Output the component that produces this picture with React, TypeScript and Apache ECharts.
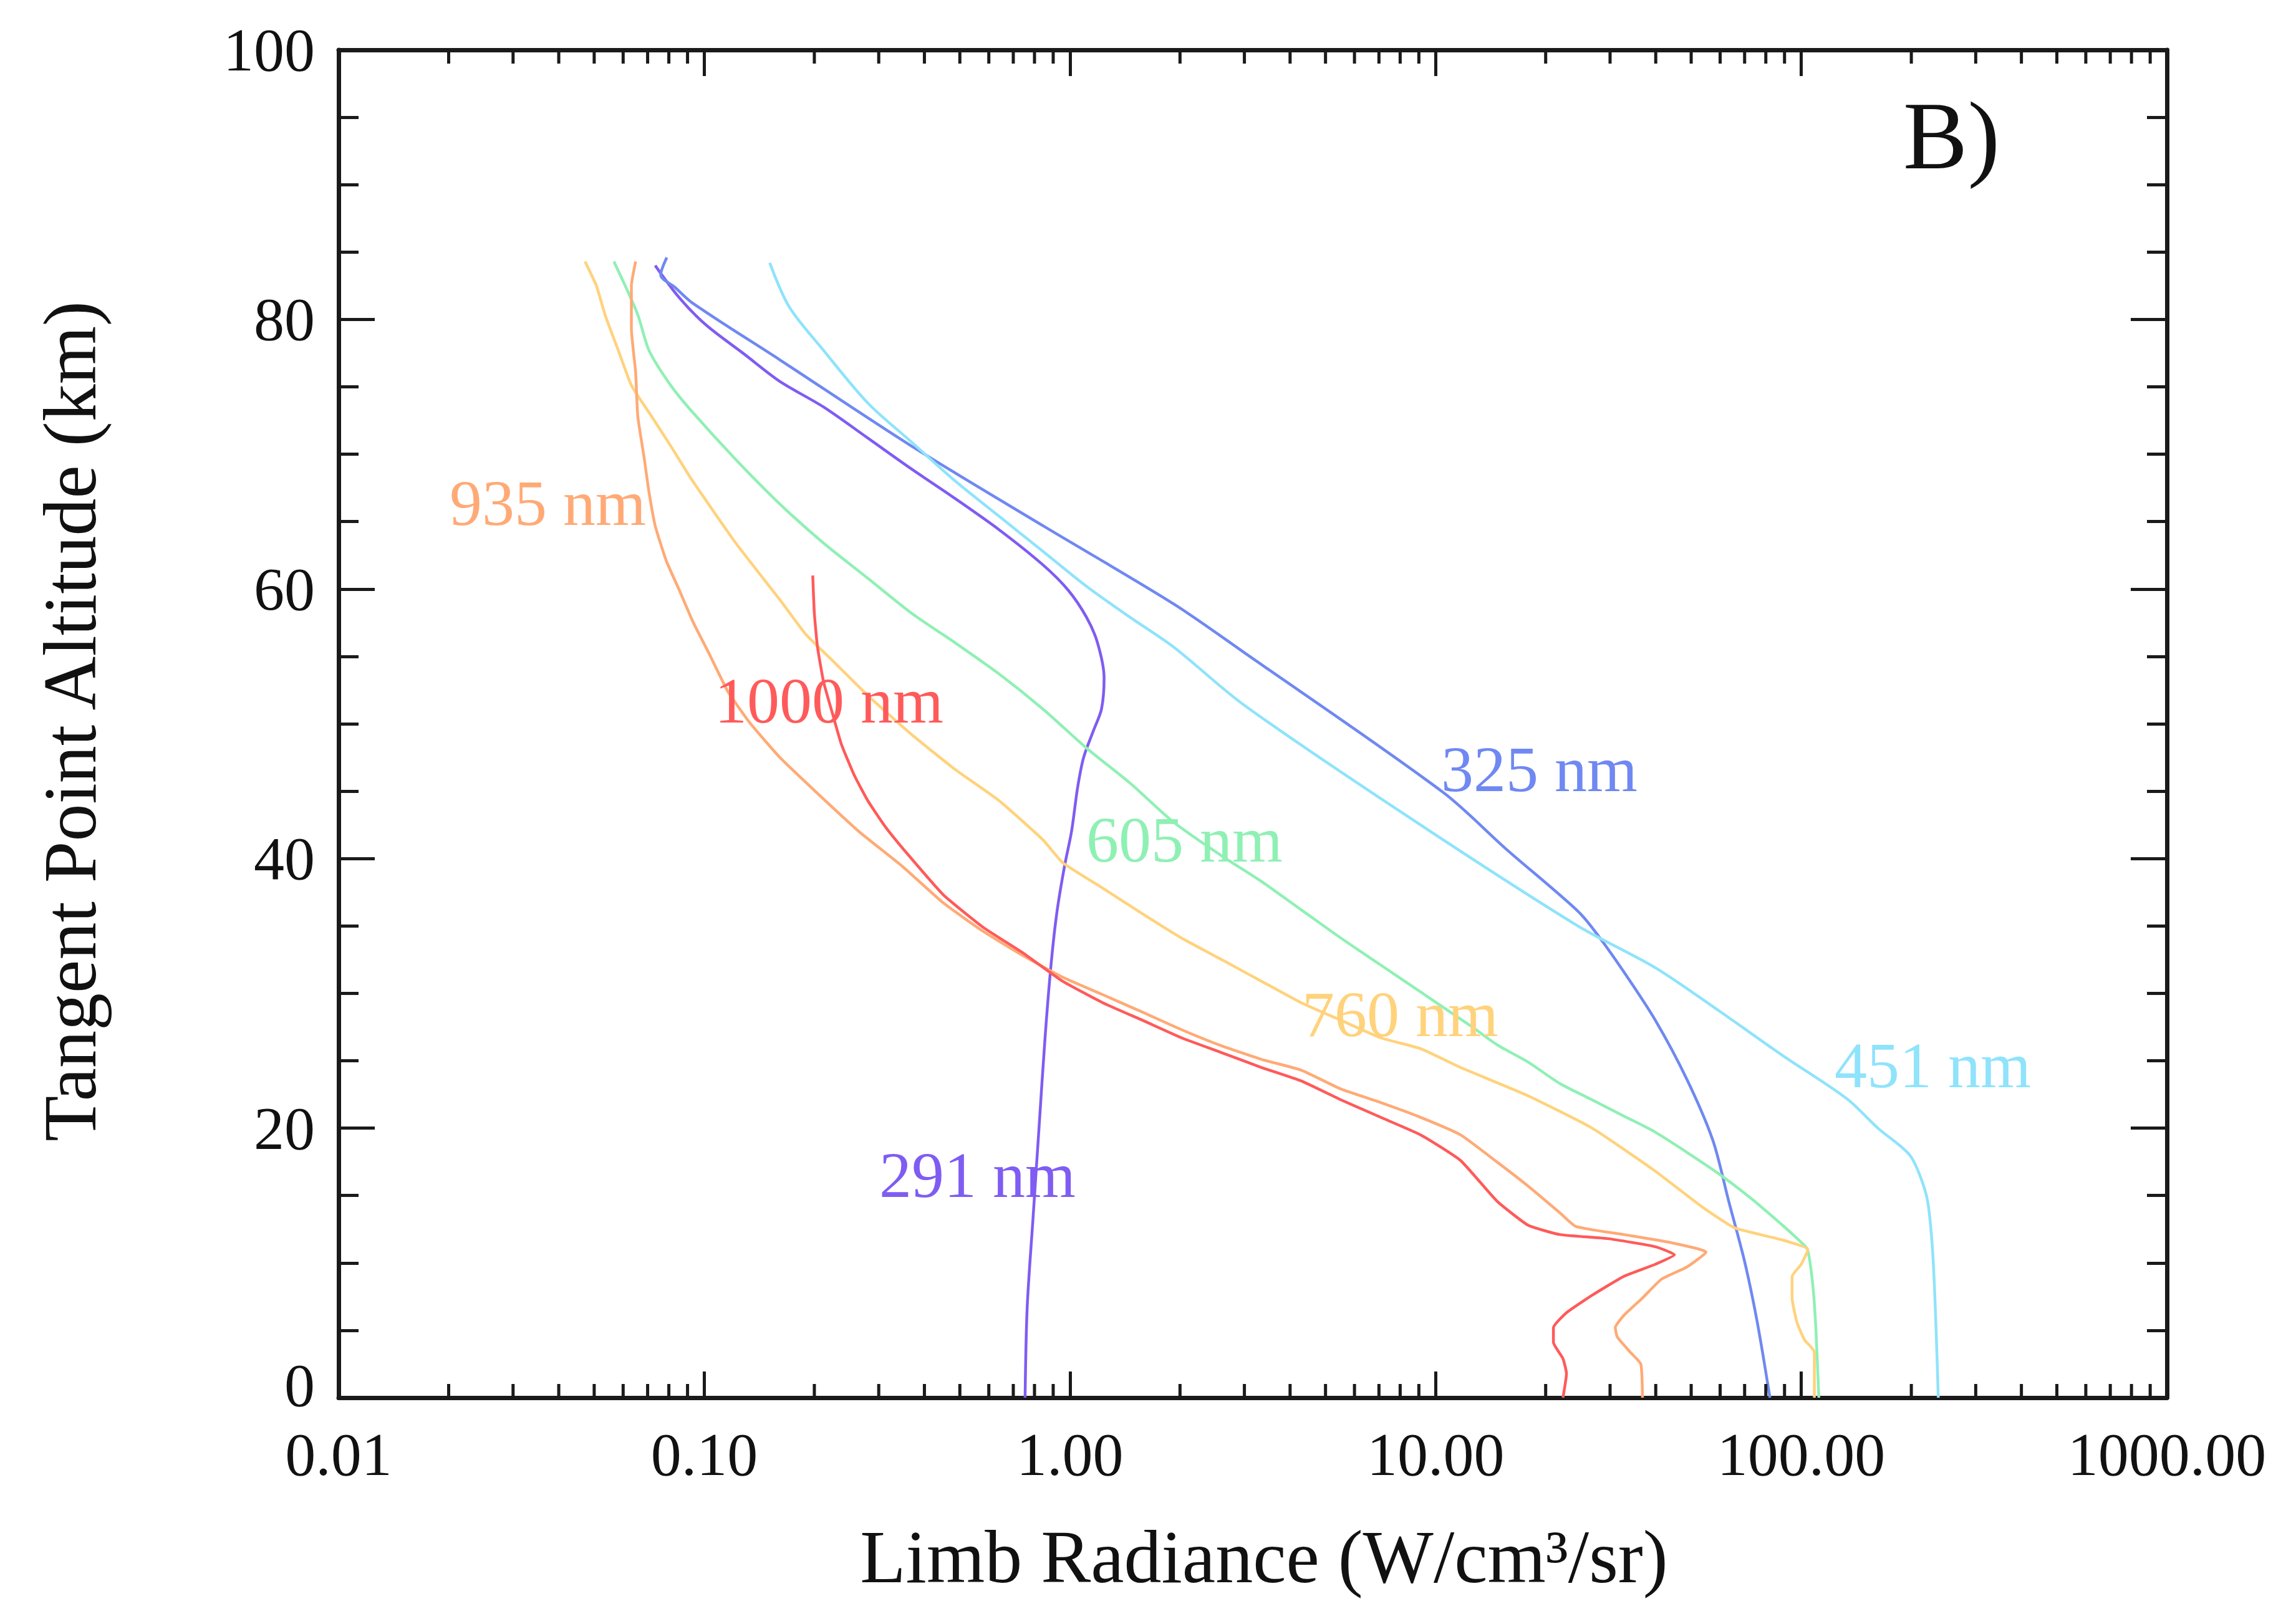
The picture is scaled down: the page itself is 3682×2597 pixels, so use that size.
import React, { useEffect, useRef } from "react";
import * as echarts from "echarts";

const W = 3682;
const H = 2597;

// ---- tick labels ----
const xTickLabels = ["0.01", "0.10", "1.00", "10.00", "100.00", "1000.00"];
const yTickLabels = ["0", "20", "40", "60", "80", "100"];
const xDecades = [0.01, 0.1, 1, 10, 100];
const xMinorMultipliers = [2, 3, 4, 5, 6, 7, 8, 9];

// ---- series: [radiance, altitude km] ----
const s291 = [
  [0.0734, 84.0], [0.0855, 81.6], [0.101, 79.6], [0.129, 77.4], [0.161, 75.4], [0.212, 73.5],
  [0.280, 71.2], [0.369, 68.9], [0.486, 66.7], [0.640, 64.4], [0.843, 61.8], [0.99, 59.9],
  [1.11, 57.9], [1.19, 56.0], [1.24, 53.4], [1.22, 51.1], [1.16, 49.5], [1.09, 47.5],
  [1.05, 45.3], [1.01, 42.0], [0.966, 39.4], [0.92, 35.9], [0.887, 32.0], [0.855, 26.7],
  [0.823, 20.0], [0.793, 13.4], [0.764, 6.7], [0.754, 0],
];
const s325 = [
  [0.079, 84.6], [0.076, 83.3], [0.083, 82.4], [0.093, 81.2], [0.161, 77.0], [0.369, 70.6],
  [0.843, 64.7], [1.92, 58.9], [2.99, 55.3], [10.5, 44.9], [15.6, 40.7], [24.5, 36.1],
  [27.8, 34.3], [32.7, 31.6], [39.9, 28.0], [48.7, 23.6], [57.3, 19.1], [63.3, 14.6],
  [70.0, 10.1], [75.8, 5.6], [82.1, 0],
];
const s451 = [
  [0.151, 84.2], [0.171, 80.9], [0.212, 77.7], [0.280, 73.8], [0.369, 70.9], [0.486, 68.0],
  [0.640, 65.4], [0.843, 62.8], [1.11, 60.2], [1.46, 57.9], [1.92, 55.7], [2.99, 51.4],
  [8.1, 43.4], [24.5, 35.0], [39.9, 31.9], [59.6, 28.7], [88.8, 25.4], [133, 22.2],
  [162, 20.0], [198, 18.0], [215, 15.9], [223, 14.1], [230, 9.7], [237, 0],
];
const s605 = [
  [0.0566, 84.3], [0.0615, 82.2], [0.0659, 80.3], [0.0706, 77.7], [0.081, 75.1], [0.093, 73.1],
  [0.122, 69.6], [0.161, 66.3], [0.212, 63.4], [0.280, 60.8], [0.369, 58.2], [0.486, 56.0],
  [0.640, 53.7], [0.843, 51.1], [1.11, 48.2], [1.46, 45.6], [1.92, 42.7], [2.60, 40.2],
  [3.34, 38.3], [4.29, 36.2], [5.51, 34.1], [7.08, 32.1], [9.10, 30.1], [12.6, 27.5],
  [14.7, 26.2], [17.9, 24.9], [21.9, 23.3], [26.8, 22.1], [32.7, 20.9], [39.9, 19.7],
  [48.7, 18.2], [59.6, 16.6], [72.8, 14.8], [88.8, 12.8], [100.2, 11.5], [104, 11.0],
  [107.4, 8.5], [109.6, 5.2], [111.7, 0],
];
const s760 = [
  [0.0472, 84.3], [0.0507, 82.5], [0.0536, 80.3], [0.0582, 77.7], [0.0632, 75.1], [0.0706, 73.1],
  [0.081, 70.6], [0.093, 68.0], [0.122, 63.4], [0.161, 59.2], [0.190, 56.6], [0.224, 54.7],
  [0.280, 52.1], [0.369, 49.2], [0.486, 46.6], [0.640, 44.3], [0.843, 41.4], [0.955, 39.7],
  [1.23, 37.8], [1.58, 35.9], [2.02, 34.1], [2.60, 32.5], [3.34, 30.9], [4.29, 29.3],
  [5.51, 28.0], [7.08, 26.7], [9.10, 25.9], [11.7, 24.5], [17.9, 22.4], [26.8, 20.0],
  [39.9, 16.8], [53.9, 14.1], [65.8, 12.6], [88.8, 11.7], [104.3, 11.0], [100, 9.9],
  [94.4, 9.0], [94.4, 7.4], [97.3, 5.6], [102, 4.3], [108.6, 3.4], [108.6, 0],
];
const s935 = [
  [0.0649, 84.3], [0.0632, 82.5], [0.0632, 79.3], [0.0649, 76.1], [0.0658, 72.8], [0.0686, 69.6],
  [0.0705, 67.3], [0.0734, 64.7], [0.0787, 62.1], [0.0855, 59.9], [0.093, 57.6], [0.104, 55.0],
  [0.116, 52.4], [0.133, 50.1], [0.161, 47.5], [0.201, 45.0], [0.265, 42.0], [0.349, 39.4],
  [0.451, 36.7], [0.579, 34.6], [0.744, 32.8], [0.955, 31.2], [1.23, 29.9], [1.58, 28.6],
  [2.02, 27.3], [2.60, 26.1], [3.34, 25.1], [4.29, 24.3], [5.51, 22.9], [7.08, 21.9],
  [9.10, 20.8], [11.7, 19.5], [14.7, 17.5], [17.9, 15.7], [21.9, 13.7], [24.2, 12.7],
  [32.7, 12.1], [44.1, 11.5], [54.9, 10.8], [48.7, 9.7], [41.5, 8.8], [36.8, 7.4],
  [32.7, 6.1], [31.0, 5.2], [31.4, 4.5], [34.0, 3.4], [36.4, 2.5], [36.8, 0],
];
const s1000 = [
  [0.198, 61.0], [0.200, 58.2], [0.204, 55.7], [0.212, 53.1], [0.224, 50.8], [0.237, 48.5],
  [0.257, 46.2], [0.280, 44.3], [0.312, 42.4], [0.358, 40.4], [0.451, 37.3], [0.579, 34.9],
  [0.744, 33.0], [0.955, 30.9], [1.23, 29.3], [1.58, 28.0], [2.02, 26.7], [2.60, 25.6],
  [3.34, 24.5], [4.29, 23.5], [5.51, 22.1], [7.08, 20.8], [9.10, 19.5], [11.7, 17.6],
  [14.7, 14.6], [17.9, 12.8], [21.9, 12.1], [29.6, 11.8], [39.9, 11.2], [45.0, 10.6],
  [39.9, 9.9], [32.7, 9.0], [26.8, 7.6], [22.8, 6.3], [21.0, 5.2], [21.0, 4.1],
  [22.3, 2.9], [22.8, 1.8], [22.3, 0],
];

const seriesNames = ["291 nm", "325 nm", "451 nm", "605 nm", "760 nm", "935 nm", "1000 nm"];
const seriesData = [s291, s325, s451, s605, s760, s935, s1000];
const seriesColors = ["#7f5cf2", "#6f88f2", "#8fe3fb", "#8ff0b4", "#ffd27c", "#ffaa76", "#ff5a5a"];
const seriesSmooth = [0.3, 0.3, 0.3, 0.25, 0.15, 0.15, 0.15];

// label placement (pixels): left x, middle y
const labelPos: Record<string, [number, number]> = {
  "291 nm": [1410, 1884],
  "325 nm": [2311, 1233],
  "451 nm": [2942, 1708],
  "605 nm": [1742, 1346],
  "760 nm": [2088, 1626],
  "935 nm": [721, 806],
  "1000 nm": [1146, 1123],
};

const SERIF = '"Liberation Serif", "Times New Roman", serif';
const AXIS = "#1a1a1a";

export default function App() {
  const ref = useRef<HTMLDivElement>(null);

  useEffect(() => {
    document.body.style.margin = "0";
    if (!ref.current) return;
    const chart = echarts.init(ref.current, null, { renderer: "svg" });

    const minorTicks: number[] = [];
    xDecades.forEach((d) => xMinorMultipliers.forEach((m) => minorTicks.push(m * d)));

    const lineSeries = seriesData.map((data, i) => ({
      type: "line",
      name: seriesNames[i],
      data,
      showSymbol: false,
      symbol: "none",
      smooth: seriesSmooth[i],
      lineStyle: { color: seriesColors[i], width: 4.5 },
      itemStyle: { color: seriesColors[i] },
      z: 3,
    }));

    const textEl = (text: string, x: number, y: number, color: string, size: number, align = "left", rotation = 0) => ({
      type: "text",
      x,
      y,
      rotation,
      silent: true,
      z: 10,
      style: {
        text,
        fill: color,
        font: `${size}px ${SERIF}`,
        align,
        verticalAlign: "middle",
        textAlign: align,
        textVerticalAlign: "middle",
      },
    });

    const graphics: any[] = seriesNames.map((n, i) =>
      textEl(n, labelPos[n][0], labelPos[n][1], seriesColors[i], 104)
    );
    graphics.push(textEl("B)", 3052, 218, "#111", 155));
    graphics.push(textEl("Limb Radiance (W/cm³/sr)", 2027, 2497, "#111", 120, "center"));
    graphics.push(textEl("Tangent Point Altitude (km)", 112, 1157, "#111", 120, "center", Math.PI / 2));

    const xBase = {
      type: "log",
      logBase: 10,
      min: 0.01,
      max: 1000,
      splitLine: { show: false },
      axisLine: { show: true, onZero: false, lineStyle: { color: AXIS, width: 7 } },
      axisTick: { show: true, inside: true, length: 42, lineStyle: { color: AXIS, width: 5 } },
      minorTick: { show: false },
    };
    const yBase = {
      type: "value",
      min: 0,
      max: 100,
      interval: 20,
      splitLine: { show: false },
      axisLine: { show: true, onZero: false, lineStyle: { color: AXIS, width: 7 } },
      axisTick: { show: true, inside: true, length: 58, lineStyle: { color: AXIS, width: 5 } },
      minorTick: { show: true, splitNumber: 4, length: 32, lineStyle: { color: AXIS, width: 5 } },
      minorSplitLine: { show: false },
    };

    const option: any = {
      animation: false,
      backgroundColor: "#ffffff",
      grid: {
        left: 543,
        right: W - 3475,
        top: 80,
        bottom: H - 2242,
        containLabel: false,
        outerBoundsMode: "none",
      },
      xAxis: [
        {
          ...xBase,
          position: "bottom",
          axisLabel: {
            show: true,
            margin: 56,
            color: "#111",
            fontFamily: SERIF,
            fontSize: 98,
            lineHeight: 70,
            formatter: (v: number) => xTickLabels[Math.round(Math.log10(v)) + 2] ?? "",
          },
        },
        { ...xBase, position: "top", axisLabel: { show: false } },
      ],
      yAxis: [
        {
          ...yBase,
          position: "left",
          axisLabel: {
            show: true,
            margin: 38,
            color: "#111",
            fontFamily: SERIF,
            fontSize: 98,
            lineHeight: 70,
            formatter: (v: number) => {
              const t = yTickLabels[Math.round(v / 20)] ?? "";
              return v === 0 ? `{z|${t}}` : t;
            },
            rich: {
              z: {
                color: "#111",
                fontFamily: SERIF,
                fontSize: 98,
                lineHeight: 70,
                padding: [0, 0, 40, 0],
              },
            },
          },
        },
        { ...yBase, position: "right", axisLabel: { show: false } },
      ],
      series: [
        ...lineSeries,
        {
          type: "custom",
          name: "minorTicks",
          coordinateSystem: "cartesian2d",
          xAxisIndex: 0,
          yAxisIndex: 0,
          silent: true,
          clip: false,
          z: 4,
          data: minorTicks.map((v) => [v, 0]),
          encode: { x: 0, y: 1 },
          renderItem: (_params: any, api: any) => {
            const v = api.value(0);
            const pb = api.coord([v, 0]);
            const pt = api.coord([v, 100]);
            return {
              type: "group",
              children: [
                { type: "line", shape: { x1: pb[0], y1: pb[1], x2: pb[0], y2: pb[1] - 22 }, style: { stroke: AXIS, lineWidth: 5 } },
                { type: "line", shape: { x1: pt[0], y1: pt[1], x2: pt[0], y2: pt[1] + 22 }, style: { stroke: AXIS, lineWidth: 5 } },
              ],
            };
          },
        },
      ],
      graphic: { elements: graphics },
    };

    chart.setOption(option);
    return () => chart.dispose();
  }, []);

  return <div ref={ref} style={{ width: W, height: H }} />;
}
